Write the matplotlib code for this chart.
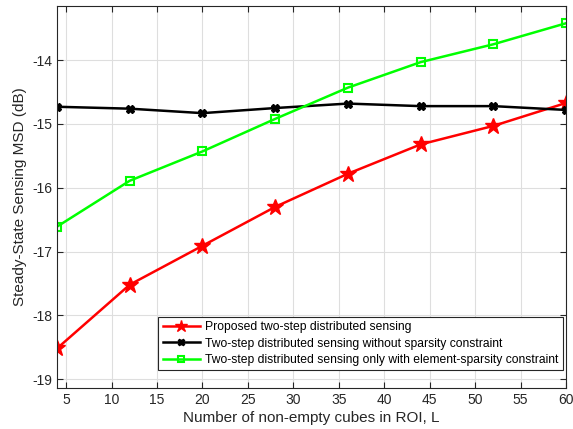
import matplotlib
matplotlib.use("Agg")
import matplotlib.pyplot as plt

plt.rcParams['font.family'] = ['Liberation Sans', 'DejaVu Sans']
plt.rcParams['axes.unicode_minus'] = False

L = [4, 12, 20, 28, 36, 44, 52, 60]
proposed = [-18.52, -17.52, -16.91, -16.30, -15.78, -15.32, -15.03, -14.67]
no_sparsity = [-14.73, -14.76, -14.83, -14.75, -14.68, -14.72, -14.72, -14.78]
elem_sparsity = [-16.61, -15.89, -15.43, -14.92, -14.43, -14.03, -13.75, -13.42]

labels = ["Proposed two-step distributed sensing",
          "Two-step distributed sensing without sparsity constraint",
          "Two-step distributed sensing only with element-sparsity constraint"]
xticks = [5, 10, 15, 20, 25, 30, 35, 40, 45, 50, 55, 60]
yticks = [-19, -18, -17, -16, -15, -14]

fig = plt.figure(figsize=(5.73, 4.29), dpi=100)
ax = fig.add_axes([0.0995, 0.0956, 0.8885, 0.8904])

ax.plot(L, proposed, color='#ff0000', lw=1.8, marker='*', ms=12, label=labels[0])
ax.plot(L, no_sparsity, color='black', lw=1.8, marker='X', ms=6, label=labels[1])
ax.plot(L, elem_sparsity, color='#00ff00', lw=1.8, marker='s', ms=6, mfc='none', mew=1.5, label=labels[2])

ax.set_xlim(4, 60)
ax.set_ylim(-19.14, -13.15)
ax.set_xticks(xticks)
ax.set_yticks(yticks)
ax.grid(True, color='#dedede', lw=0.8)
ax.set_axisbelow(True)
ax.tick_params(direction='in', top=True, right=True, labelsize=10, colors='#262626', length=4)
for s in ax.spines.values():
    s.set_color('#262626')
ax.set_xlabel("Number of non-empty cubes in ROI, L", fontsize=11, color='#262626', labelpad=3)
ax.set_ylabel("Steady-State Sensing MSD (dB)", fontsize=11, color='#262626', labelpad=4)

leg = ax.legend(loc='lower right', fontsize=8.7, fancybox=False, edgecolor='#262626',
                framealpha=1, handlelength=3.1, handletextpad=0.4, borderpad=0.35,
                labelspacing=0.38, borderaxespad=0, markerscale=0.75,
                bbox_to_anchor=(0.993, 0.046))
leg.get_frame().set_linewidth(0.8)

fig.savefig("out.png", dpi=100)
